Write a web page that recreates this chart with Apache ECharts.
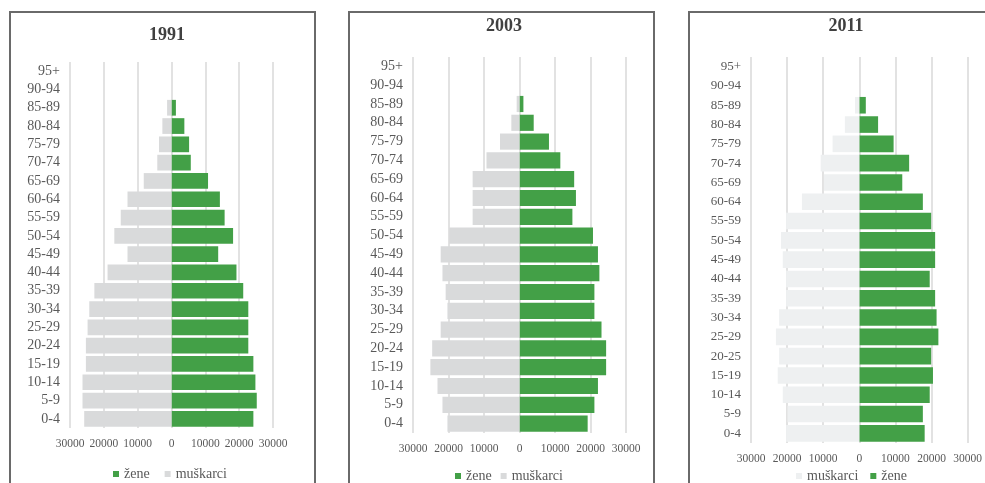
<!DOCTYPE html>
<html>
<head>
<meta charset="utf-8">
<script src="https://cdn.jsdelivr.net/npm/echarts@6/dist/echarts.min.js"></script>
<style>
  body { margin: 0; background: #fff; width: 985px; height: 483px; overflow: hidden; position: relative; }
  .frame { position: absolute; top: 11px; height: 500px; border: 2px solid #6a6a6a; box-sizing: border-box; }
  .chart { position: absolute; top: 11px; height: 472px; }
</style>
</head>
<body>
<div class="frame" style="left:9px;width:307px;"></div>
<div class="frame" style="left:348px;width:307px;"></div>
<div class="frame" style="left:688px;width:320px;"></div>
<div class="chart" id="c1991" style="left:10px;width:305px;"></div>
<div class="chart" id="c2003" style="left:349px;width:305px;"></div>
<div class="chart" id="c2011" style="left:689px;width:296px;"></div>
<script>
// dobne skupine (kategorije idu od dna prema vrhu)
var ageGroups = ['0-4', '5-9', '10-14', '15-19', '20-24', '25-29', '30-34', '35-39', '40-44', '45-49',
                 '50-54', '55-59', '60-64', '65-69', '70-74', '75-79', '80-84', '85-89', '90-94', '95+'];
var ageGroups2011 = ['0-4', '5-9', '10-14', '15-19', '20-25', '25-29', '30-34', '35-39', '40-44', '45-49',
                 '50-54', '55-59', '60-64', '65-69', '70-74', '75-79', '80-84', '85-89', '90-94', '95+'];
var xTicks = [-30000, -20000, -10000, 0, 10000, 20000, 30000];

var zene1991 = [24200, 25200, 24800, 24200, 22700, 22700, 22700, 21200, 19200, 13800,
                18200, 15700, 14300, 10800, 5700, 5200, 3800, 1300, 0, 0];
var muskarci1991 = [25800, 26300, 26300, 25300, 25300, 24800, 24300, 22800, 18900, 13000,
                    16900, 15000, 13000, 8200, 4200, 3700, 2700, 1300, 0, 0];

var zene2003 = [19200, 21100, 22100, 24400, 24400, 23100, 21100, 21100, 22500, 22100,
                20700, 14900, 15900, 15400, 11500, 8300, 4000, 1100, 0, 0];
var muskarci2003 = [20300, 21700, 23100, 25100, 24600, 22200, 20300, 20800, 21700, 22200,
                    19800, 13200, 13200, 13200, 9300, 5500, 2300, 800, 0, 0];

var zene2011 = [18100, 17600, 19500, 20400, 19900, 21900, 21400, 21000, 19500, 21000,
                21000, 19900, 17600, 11900, 13800, 9500, 5200, 1800, 0, 0];
var muskarci2011 = [20300, 19900, 21200, 22600, 22200, 23100, 22200, 20300, 20300, 21200,
                    21700, 20300, 15900, 9800, 10700, 7400, 4000, 1200, 0, 0];

var GREEN = '#43a047';
var FONT = '"Liberation Serif", "DejaVu Serif", serif';

function neg(arr) { return arr.map(function (v) { return -v; }); }

function drawPyramid(id, cfg) {
  var chart = echarts.init(document.getElementById(id));
  var legendData = cfg.legendOrder.map(function (n) {
    return { name: n, itemStyle: { color: n === 'žene' ? GREEN : cfg.menColor } };
  });
  chart.setOption({
    animation: false,
    title: {
      text: cfg.year, left: cfg.titleX, top: cfg.titleY, textAlign: 'center',
      textStyle: { fontFamily: FONT, fontSize: 18, fontWeight: 'bold', color: '#404040' }
    },
    legend: {
      data: legendData, left: cfg.legendX, top: cfg.legendY,
      itemWidth: 6, itemHeight: 6, itemGap: cfg.legendGap, icon: 'rect',
      textStyle: { fontFamily: FONT, fontSize: 14, color: '#595959' }
    },
    grid: { left: cfg.grid[0], top: cfg.grid[1], width: cfg.grid[2], height: cfg.grid[3] },
    xAxis: {
      type: 'value', min: xTicks[0], max: xTicks[xTicks.length - 1], interval: 10000,
      axisLine: { show: false }, axisTick: { show: false },
      axisLabel: {
        fontFamily: FONT, fontSize: 11.5, color: '#595959', margin: 10,
        formatter: function (v) { return String(Math.abs(v)); }
      },
      splitLine: { show: true, lineStyle: { color: '#d9d9d9', width: 1.5 } }
    },
    yAxis: {
      type: 'category', data: cfg.cats,
      axisLine: { show: false }, axisTick: { show: false },
      axisLabel: { fontFamily: FONT, fontSize: cfg.catFont, color: '#595959', margin: 10 }
    },
    series: [
      {
        name: 'žene', type: 'bar', data: cfg.zene, barGap: '-100%', barCategoryGap: '14%',
        itemStyle: { color: GREEN }
      },
      {
        name: 'muškarci', type: 'bar', data: neg(cfg.muskarci), barGap: '-100%', barCategoryGap: '14%',
        itemStyle: { color: cfg.menColor }
      }
    ]
  });
}

drawPyramid('c1991', {
  year: '1991', titleX: 152, titleY: 10, cats: ageGroups, catFont: 14,
  zene: zene1991, muskarci: muskarci1991, menColor: '#d9dadb',
  grid: [60, 51, 203, 366], legendOrder: ['žene', 'muškarci'], legendX: 98, legendY: 451, legendGap: 15
});
drawPyramid('c2003', {
  year: '2003', titleX: 150, titleY: 1, cats: ageGroups, catFont: 14,
  zene: zene2003, muskarci: muskarci2003, menColor: '#d9dadb',
  grid: [64, 46, 213, 376], legendOrder: ['žene', 'muškarci'], legendX: 101, legendY: 453, legendGap: 9
});
drawPyramid('c2011', {
  year: '2011', titleX: 152, titleY: 1, cats: ageGroups2011, catFont: 13,
  zene: zene2011, muskarci: muskarci2011, menColor: '#eef0f1',
  grid: [62, 46, 217, 386], legendOrder: ['muškarci', 'žene'], legendX: 102, legendY: 453, legendGap: 12
});
</script>
</body>
</html>
